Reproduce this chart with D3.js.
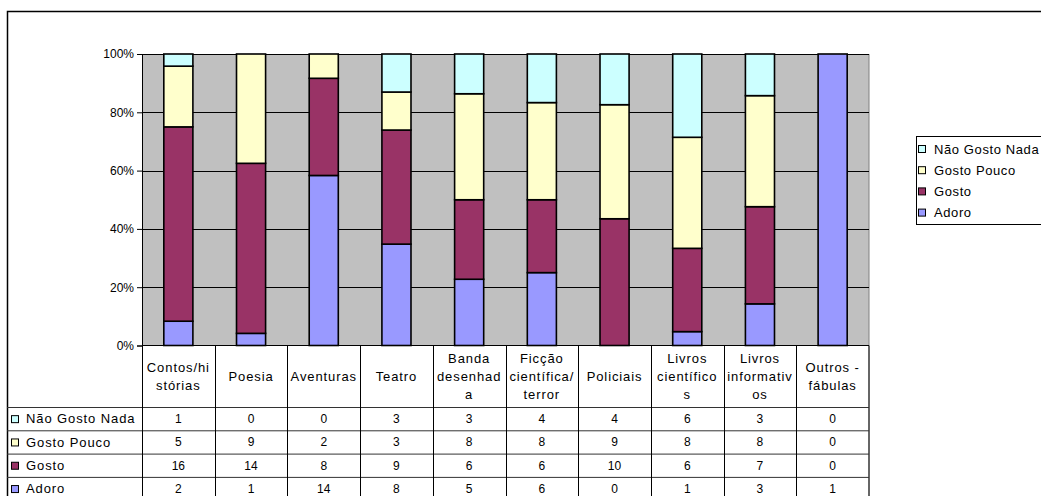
<!DOCTYPE html>
<html>
<head>
<meta charset="utf-8">
<script src="https://cdn.jsdelivr.net/npm/d3@7"></script>
<style>
html,body{margin:0;padding:0;background:#fff;}
svg{display:block;font-family:"Liberation Sans",Arial,sans-serif;}
</style>
</head>
<body>
<svg id="chart" width="1041" height="496"></svg>
<script>
const categories = ["Contos/histórias","Poesia","Aventuras","Teatro","Banda desenhada","Ficção científica/terror","Policiais","Livros científicos","Livros informativos","Outros - fábulas"];
const categoryLines = [["Contos/hi","stórias"],["Poesia"],["Aventuras"],["Teatro"],["Banda","desenhad","a"],["Ficção","científica/","terror"],["Policiais"],["Livros","científico","s"],["Livros","informativ","os"],["Outros -","fábulas"]];
const seriesNames = ["Adoro","Gosto","Gosto Pouco","Não Gosto Nada"];
const adoro = [2,1,14,8,5,6,0,1,3,1];
const gosto = [16,14,8,9,6,6,10,6,7,0];
const gostoPouco = [5,9,2,3,8,8,9,8,8,0];
const naoGostoNada = [1,0,0,3,3,4,4,6,3,0];
const seriesColors = ["#9999FF","#993366","#FFFFCC","#CCFFFF"];
const yTicks = [0,0.2,0.4,0.6,0.8,1];

const values = [adoro, gosto, gostoPouco, naoGostoNada];
const rows = categories.map((c,i)=>{const o={cat:c}; seriesNames.forEach((s,j)=>o[s]=values[j][i]); return o;});
const stack = d3.stack().keys(seriesNames).offset(d3.stackOffsetExpand);
const stacked = stack(rows);
const color = d3.scaleOrdinal().domain(seriesNames).range(seriesColors);

const svg = d3.select("#chart");
const PL=142, PR=869, PT=54, PB=345.5;

// outer border
svg.append("rect").attr("x",7.5).attr("y",11.5).attr("width",1100).attr("height",600)
  .attr("fill","#fff").attr("stroke","#000").attr("stroke-width",1.5);

const x = d3.scaleBand().domain(categories).range([PL,PR]).paddingInner(0.6).paddingOuter(0.3);
const xc = d3.scaleBand().domain(categories).range([PL,PR]).padding(0);
const y = d3.scaleLinear().domain([0,1]).range([PB,PT]);

// plot background
svg.append("rect").attr("x",PL).attr("y",PT).attr("width",PR-PL).attr("height",PB-PT).attr("fill","#C0C0C0");
svg.append("line").attr("x1",PR).attr("x2",PR).attr("y1",PT).attr("y2",PB).attr("stroke","#808080").attr("stroke-width",1);

// gridlines
svg.append("g").selectAll("line").data(yTicks.filter(t=>t>0)).join("line")
  .attr("x1",PL).attr("x2",PR).attr("y1",d=>Math.round(y(d))+0.5).attr("y2",d=>Math.round(y(d))+0.5)
  .attr("stroke","#000").attr("stroke-width",1);

// bars
svg.append("g").selectAll("g").data(stacked).join("g").attr("fill",d=>color(d.key))
  .selectAll("rect").data(d=>d).join("rect")
  .attr("x",d=>x(d.data.cat)).attr("width",x.bandwidth())
  .attr("y",d=>y(d[1])).attr("height",d=>Math.max(0,y(d[0])-y(d[1])))
  .attr("stroke",d=>(d[1]-d[0])>0?"#000":"none").attr("stroke-width",1.6);

// y axis
const yAxis = d3.axisLeft(y).tickValues(yTicks).tickFormat(d3.format(".0%")).tickSize(5).tickPadding(3);
const ga = svg.append("g").attr("transform",`translate(${PL},0)`).call(yAxis);
ga.select(".domain").attr("stroke","#000");
ga.selectAll(".tick line").attr("stroke","#000");
ga.selectAll(".tick text").attr("font-size",12).attr("fill","#000").attr("font-family","Liberation Sans, Arial, sans-serif");

// data table
const rowOrder = ["Não Gosto Nada","Gosto Pouco","Gosto","Adoro"];
const HB = 407.5, RH = 23.3;
const tbl = svg.append("g");
categories.forEach((c,i)=>{
  const lines = categoryLines[i];
  const cx = xc(c)+xc.bandwidth()/2;
  const cy = 376;
  const t = tbl.append("text").attr("text-anchor","middle").attr("font-size",13).attr("letter-spacing","0.9px").attr("fill","#000");
  lines.forEach((l,k)=>{
    t.append("tspan").attr("x",cx).attr("y",cy+(k-(lines.length-1)/2)*18).attr("dy","0.35em").text(l);
  });
});
rowOrder.forEach((s,r)=>{
  const cy = HB + r*RH + RH/2;
  tbl.append("rect").attr("x",11.5).attr("y",cy-3.5).attr("width",7).attr("height",7)
    .attr("fill",color(s)).attr("stroke","#000").attr("stroke-width",1);
  tbl.append("text").attr("x",26).attr("y",cy).attr("dy","0.33em").attr("font-size",13).attr("letter-spacing","0.9px").text(s);
  const vals = values[seriesNames.indexOf(s)];
  categories.forEach((c,i)=>{
    tbl.append("text").attr("x",xc(c)+xc.bandwidth()/2).attr("y",cy).attr("dy","0.33em")
      .attr("text-anchor","middle").attr("font-size",12).text(vals[i]);
  });
});
for(let r=0;r<5;r++){
  const yy = HB + r*RH;
  tbl.append("line").attr("x1",7).attr("x2",PR).attr("y1",yy).attr("y2",yy).attr("stroke","#333").attr("stroke-width",1);
}
xc.domain().forEach(c=>{
  tbl.append("line").attr("x1",Math.round(xc(c))+0.5).attr("x2",Math.round(xc(c))+0.5).attr("y1",PB).attr("y2",510).attr("stroke","#000");
});
tbl.append("line").attr("x1",PR).attr("x2",PR).attr("y1",PB).attr("y2",510).attr("stroke","#333").attr("stroke-width",1.5);
svg.append("line").attr("x1",PL).attr("x2",PR).attr("y1",PB).attr("y2",PB).attr("stroke","#000");

// legend
const lg = svg.append("g");
lg.append("rect").attr("x",916.5).attr("y",136.5).attr("width",200).attr("height",88).attr("fill","#fff").attr("stroke","#000");
rowOrder.forEach((s,i)=>{
  const cy = 149 + i*21.2;
  lg.append("rect").attr("x",918.5).attr("y",cy-3.5).attr("width",7).attr("height",7).attr("fill",color(s)).attr("stroke","#000");
  lg.append("text").attr("x",934).attr("y",cy).attr("dy","0.35em").attr("font-size",13).attr("letter-spacing","0.6px").text(s);
});
</script>
</body>
</html>
